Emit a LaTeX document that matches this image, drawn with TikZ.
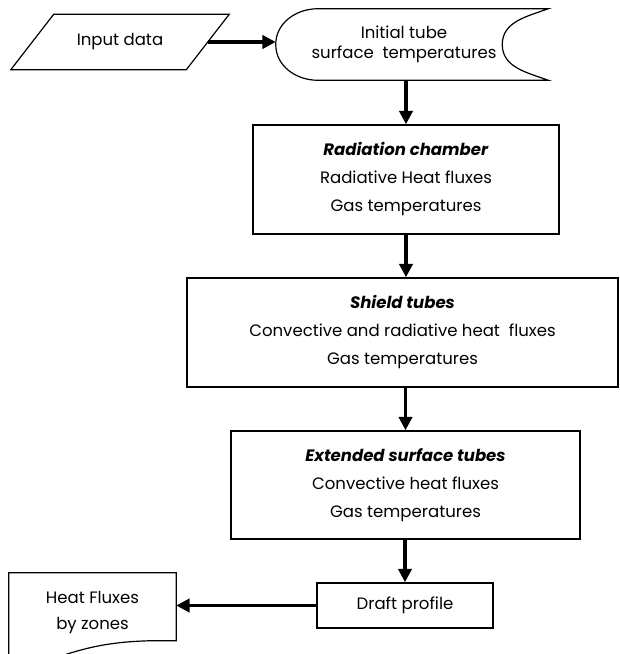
\documentclass[tikz,border=0pt]{standalone}
\usepackage{fontspec}
\setmainfont{Poppins}
\usetikzlibrary{arrows.meta,calc}

\begin{document}
\begin{tikzpicture}[x=0.75pt, y=-0.75pt,
    font=\fontsize{12.4}{21}\selectfont,
    flow/.style={-{Triangle[length=10pt,width=10pt]}, line width=2.3pt}, % the thick arrows
    block/.style={draw, line width=1.2pt, align=center, inner sep=0pt}, % process boxes
    thin/.style={line width=0.9pt},
  ]
  \useasboundingbox (0,0) rectangle (619,654);

  \node[minimum width=131.25pt, minimum height=41.25pt, inner sep=0pt] (input) at (120,42) {Input data};
  % slanted input outline
  \draw[thin] ($(input.south west)+(-21.5,0)$) -- ($(input.north west)+(21.5,0)$)
    -- ($(input.north east)+(21.5,0)$) -- ($(input.south east)+(-21.5,0)$) -- cycle;

  \node[align=center, minimum width=192pt, minimum height=53.25pt, inner sep=0pt,
    font=\fontsize{12.4}{14.5}\selectfont] (init) at (404,44.5) {Initial tube\\surface\ \ temperatures};
  % stored data outline round the init node
  \draw[thin] ($(init.north west)+(42,0)$) -- ($(init.north east)+(16,0)$)
    to[out=200,in=90] ($(init.east)+(-30,0)$) to[out=-90,in=160] ($(init.south east)+(16,0)$)
    -- ($(init.south west)+(42,0)$) to[out=180,in=-90] (init.west)
    to[out=90,in=180] ($(init.north west)+(42,0)$);

  \node[block, minimum width=229.5pt, minimum height=81.75pt] (rad) at (406,179.5)
    {\textbf{\textit{Radiation chamber}}\\Radiative Heat fluxes\\Gas temperatures};
  \node[block, minimum width=323.25pt, minimum height=81.75pt] (shield) at (402.5,332.5)
    {\textbf{\textit{Shield tubes}}\\Convective and radiative heat\ \ fluxes\\Gas temperatures};
  \node[block, minimum width=261.75pt, minimum height=81pt] (ext) at (405.5,485)
    {\textbf{\textit{Extended surface tubes}}\\Convective heat fluxes\\Gas temperatures};
  \node[block, minimum width=132pt, minimum height=33.75pt] (draft) at (405,605.5) {Draft profile};

  \node[align=center, minimum width=125.25pt, minimum height=59.25pt, inner sep=0pt,
    font=\fontsize{12.4}{20}\selectfont] (heat) at (92.5,612.5) {Heat Fluxes\\by zones};
  % document outline, its wavy foot runs off the page
  \draw[thin] ($(heat.south west)+(0,10)$) -- (heat.north west) -- (heat.north east)
    -- ($(heat.north east)+(0,68)$) -- ($(heat.north east)+(-25,68)$)
    .. controls ($(heat.north east)+(-70,69)$) and ($(heat.north east)+(-95,76)$) .. ($(heat.south west)+(40,8)$);

  \draw[flow] (input.east) -- (input.east -| init.west);
  \draw[flow] (init.south -| rad.north) -- (rad.north);
  \draw[flow] (rad.south) -- (rad.south |- shield.north);
  \draw[flow] (shield.south -| ext.north) -- (ext.north);
  \draw[flow] (ext.south -| draft.north) -- (draft.north);
  \draw[flow] (draft.west) -- (draft.west -| heat.east);
\end{tikzpicture}
\end{document}
